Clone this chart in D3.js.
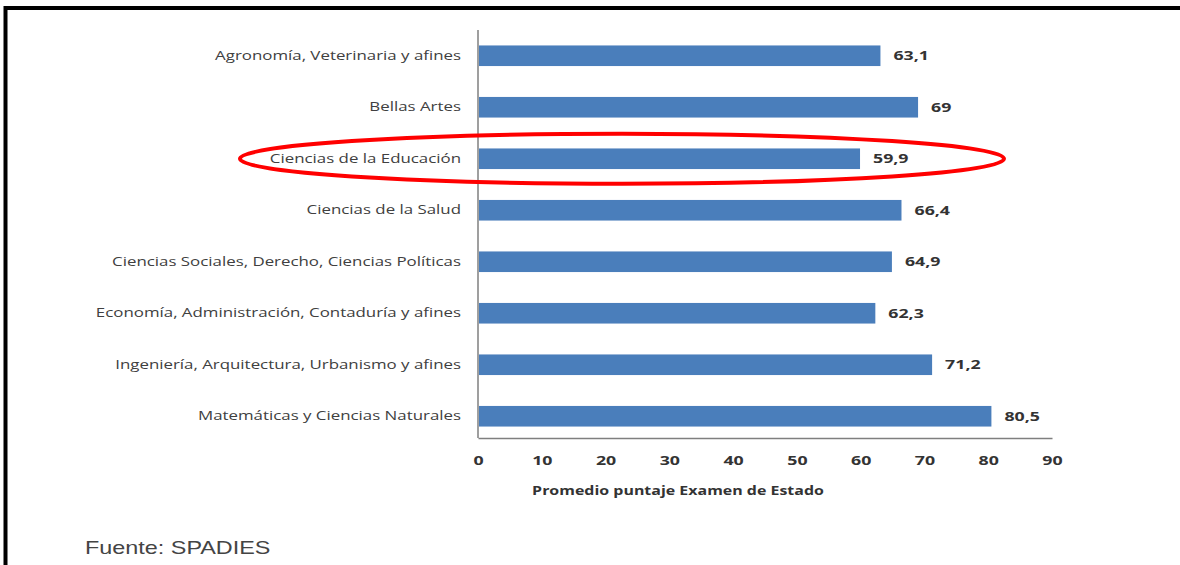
<!DOCTYPE html>
<html>
<head>
<meta charset="utf-8">
<script src="https://cdn.jsdelivr.net/npm/d3@7"></script>
<style>
html,body{margin:0;padding:0;background:#fff;}
svg{display:block;}
</style>
</head>
<body>
<svg id="chart" width="1180" height="565"></svg>
<script>
const categories = [
  "Agronomía, Veterinaria y afines",
  "Bellas Artes",
  "Ciencias de la Educación",
  "Ciencias de la Salud",
  "Ciencias Sociales, Derecho, Ciencias Políticas",
  "Economía, Administración, Contaduría y afines",
  "Ingeniería, Arquitectura, Urbanismo y afines",
  "Matemáticas y Ciencias Naturales"
];
const values = [63.1, 69, 59.9, 66.4, 64.9, 62.3, 71.2, 80.5];
const xTicks = [0, 10, 20, 30, 40, 50, 60, 70, 80, 90];
const highlighted = "Ciencias de la Educación";
const axisTitle = "Promedio puntaje Examen de Estado";
const sourceNote = "Fuente: SPADIES";

const svg = d3.select("#chart");
const fmt = v => String(v).replace(".", ",");
const FONT = "Open Sans, Liberation Sans, sans-serif";

// horizontally stretch text (the reference is a stretched image)
function stretch(sel, sx) {
  sel.each(function () {
    const t = d3.select(this);
    const xv = +(t.attr("x") || 0);
    t.attr("x", xv / sx).attr("transform", `scale(${sx},1)`);
  });
}

const x = d3.scaleLinear().domain([0, 90]).range([478, 1052]);
const y = d3.scaleBand().domain(categories).range([30, 442]).paddingInner(0.6).paddingOuter(0.3);
const axisY = 438;

// frame
svg.append("line").attr("x1", 4).attr("x2", 1180).attr("y1", 8).attr("y2", 8)
  .attr("stroke", "#000").attr("stroke-width", 4);
svg.append("line").attr("x1", 5.5).attr("x2", 5.5).attr("y1", 6).attr("y2", 565)
  .attr("stroke", "#000").attr("stroke-width", 4);

// bars
svg.append("g").selectAll("rect").data(categories).join("rect")
  .attr("x", x(0) + 1)
  .attr("y", d => y(d))
  .attr("width", (d, i) => x(values[i]) - x(0) - 1)
  .attr("height", y.bandwidth())
  .attr("fill", "#4a7ebb");

// value labels
const vl = svg.append("g").selectAll("text").data(categories).join("text")
  .attr("x", (d, i) => x(values[i]) + 13)
  .attr("y", d => y(d) + y.bandwidth() / 2)
  .attr("dy", "0.35em")
  .attr("font-family", FONT)
  .attr("font-size", 12.5)
  .attr("font-weight", "bold")
  .attr("fill", "#333")
  .text((d, i) => fmt(values[i]));
stretch(vl, 1.42);

// y axis
const yAxis = svg.append("g").attr("transform", `translate(${x(0)},0)`)
  .call(d3.axisLeft(y).tickSize(0).tickPadding(17));
yAxis.select(".domain").remove();
yAxis.append("line").attr("x1", 0).attr("x2", 0).attr("y1", 30).attr("y2", axisY)
  .attr("stroke", "#7f7f7f").attr("stroke-width", 1.5);
yAxis.selectAll("text")
  .attr("font-family", FONT)
  .attr("font-size", 12.5)
  .attr("fill", "#404040");
stretch(yAxis.selectAll(".tick text"), 1.35);

// x axis
const xAxis = svg.append("g").attr("transform", `translate(0,${axisY})`)
  .call(d3.axisBottom(x).tickValues(xTicks).tickSize(0).tickPadding(18));
xAxis.select(".domain").attr("stroke", "#7f7f7f").attr("stroke-width", 1.5);
xAxis.selectAll("text")
  .attr("font-family", FONT)
  .attr("font-size", 12.5)
  .attr("font-weight", "bold")
  .attr("fill", "#333");
xAxis.selectAll(".tick text").attr("transform", "scale(1.42,1)");

// axis title
const at = svg.append("text")
  .attr("x", 678).attr("y", 495)
  .attr("text-anchor", "middle")
  .attr("font-family", FONT)
  .attr("font-size", 12)
  .attr("font-weight", "bold")
  .attr("fill", "#333")
  .text(axisTitle);
stretch(at, 1.33);

// highlight ellipse
svg.append("ellipse")
  .attr("cx", 622)
  .attr("cy", y(highlighted) + y.bandwidth() / 2)
  .attr("rx", 382).attr("ry", 25)
  .attr("fill", "none")
  .attr("stroke", "#f00")
  .attr("stroke-width", 4);

// source
const src = svg.append("text")
  .attr("x", 85).attr("y", 554)
  .attr("font-family", "Liberation Sans, Arial, sans-serif")
  .attr("font-size", 18)
  .attr("fill", "#444")
  .text(sourceNote);
stretch(src, 1.3);
</script>
</body>
</html>
